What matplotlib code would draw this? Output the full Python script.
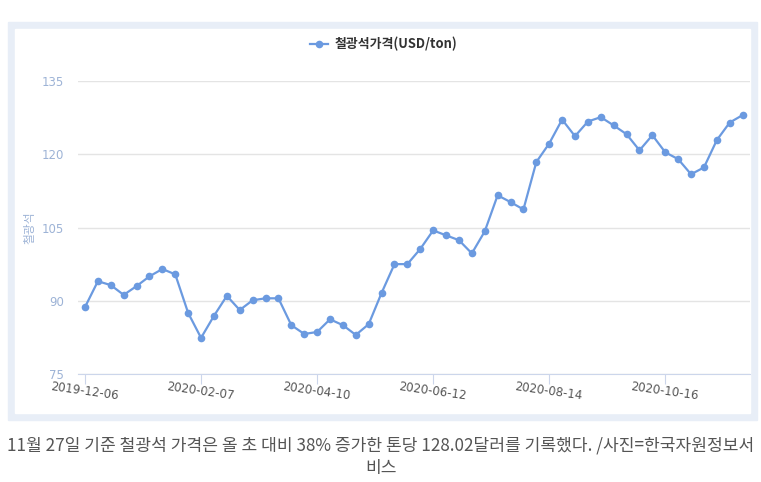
import matplotlib
matplotlib.use("Agg")
import matplotlib.pyplot as plt
from matplotlib.patches import Rectangle
import pandas as pd

plt.rcParams['font.family'] = ['Noto Sans CJK KR', 'DejaVu Sans']

# weekly iron ore price, USD/ton
start = "2019-12-06"
prices = [88.7, 94.0, 93.2, 91.2, 93.0, 95.0, 96.5, 95.4, 87.5, 82.4,
          86.9, 91.0, 88.1, 90.1, 90.5, 90.5, 85.0, 83.2, 83.6, 86.2,
          85.0, 83.0, 85.2, 91.6, 97.5, 97.5, 100.6, 104.4, 103.4, 102.4,
          99.7, 104.2, 111.6, 110.2, 108.7, 118.4, 122.2, 127.1, 123.7, 126.7,
          127.6, 125.9, 124.1, 120.8, 123.9, 120.4, 119.0, 115.9, 117.3, 122.9,
          126.5, 128.02]
tick_labels = ["2019-12-06", "2020-02-07", "2020-04-10",
               "2020-06-12", "2020-08-14", "2020-10-16"]
y_ticks = [75, 90, 105, 120, 135]
series_name = "철광석가격(USD/ton)"
y_title = "철광석"
caption = ("11월 27일 기준 철광석 가격은 올 초 대비 38% 증가한 톤당 128.02달러를 기록했다. /사진=한국자원정보서\n"
           "비스")

dates = pd.date_range(start, periods=len(prices), freq="7D")
tick_dates = pd.to_datetime(tick_labels)

W, H = 761, 482
fig = plt.figure(figsize=(W / 100, H / 100), dpi=100)

# frame around the chart
fig.patches.append(Rectangle((8 / W, 1 - 420 / H), 749 / W, 398 / H,
                             transform=fig.transFigure, color="#e8eef7", zorder=-2))
fig.patches.append(Rectangle((15 / W, 1 - 413 / H), 735 / W, 384 / H,
                             transform=fig.transFigure, color="white", zorder=-1))

ax = fig.add_axes([78 / W, 1 - 374 / H, 672 / W, 293 / H])
ax.set_zorder(2)
ax.patch.set_alpha(0)
line_color = "#6b9ae0"
ax.plot(dates, prices, color=line_color, lw=1.6, marker="o", ms=5.5,
        markeredgewidth=0, label=series_name, zorder=3)

ax.set_ylim(75, 135)
ax.set_yticks(y_ticks)
ax.set_xlim(pd.Timestamp(start) - pd.Timedelta(days=3.8),
            pd.Timestamp(start) + pd.Timedelta(days=361))
ax.set_xticks(tick_dates)
ax.set_xticklabels(tick_labels, rotation=-8, ha="center", rotation_mode="anchor")

ax.grid(axis="y", color="#e4e4e4", lw=1)
ax.set_axisbelow(True)
for s in ["top", "right", "left"]:
    ax.spines[s].set_visible(False)
ax.spines["bottom"].set_color("#ccd6eb")
ax.tick_params(axis="y", length=0, pad=10, labelcolor="#9db3d6", labelsize=8.5)
ax.tick_params(axis="x", length=7, color="#ccd6eb", pad=1, labelcolor="#555555",
               labelsize=8.5)
for lb in ax.get_xticklabels():
    lb.set_fontfamily(['DejaVu Sans'])
for lb in ax.get_yticklabels():
    lb.set_fontfamily(['DejaVu Sans'])

fig.text(30 / W, 1 - 228 / H, y_title, rotation=90, ha="center", va="center",
         color="#9db3d6", fontsize=8.5, zorder=3)

leg = fig.legend(loc="center", bbox_to_anchor=(384 / W, 1 - 44 / H), frameon=False,
                 handlelength=1.4, handletextpad=0.5,
                 prop={"size": 9.3, "weight": "bold"})
leg.set_zorder(3)
for t in leg.get_texts():
    t.set_color("#333333")

fig.text(381 / W, 1 - 457 / H, caption, ha="center", va="center",
         color="#555555", fontsize=12.3, linespacing=1.3, fontweight="light")

fig.savefig("out.png", dpi=100)
